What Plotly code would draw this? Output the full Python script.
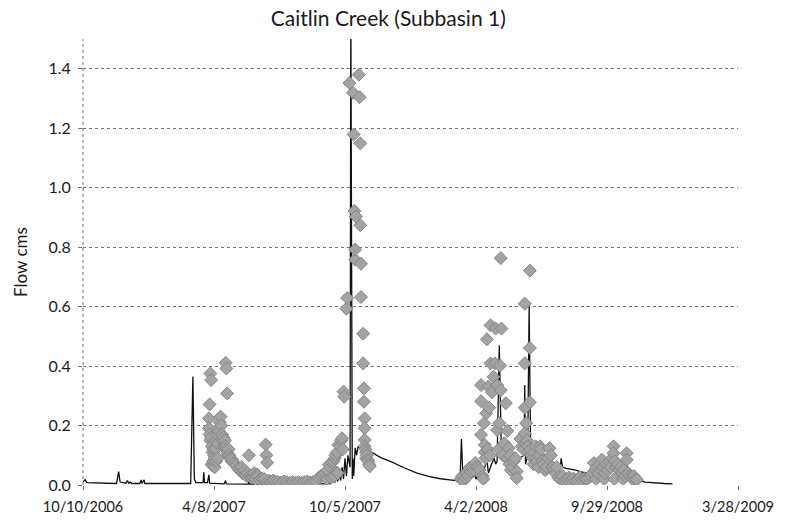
import plotly.graph_objects as go

# Simulated daily flow (cms), Caitlin Creek subbasin 1
sim_dates = [
    "2006-10-10", "2006-10-13", "2006-10-15", "2006-11-02", "2006-11-25", "2006-11-28",
    "2006-11-30", "2006-12-08", "2006-12-10", "2006-12-12", "2006-12-14", "2006-12-16",
    "2006-12-27", "2006-12-29", "2006-12-30", "2007-01-02", "2007-01-03", "2007-03-07",
    "2007-03-10", "2007-03-12", "2007-03-14", "2007-03-24", "2007-03-25", "2007-03-26",
    "2007-03-30", "2007-04-01", "2007-04-02", "2007-04-22", "2007-04-24", "2007-04-25",
    "2007-05-25", "2007-05-26", "2007-05-27", "2007-09-02", "2007-09-16", "2007-09-19",
    "2007-09-21", "2007-09-23", "2007-09-25", "2007-09-27", "2007-09-29", "2007-10-01",
    "2007-10-03", "2007-10-05", "2007-10-07", "2007-10-09", "2007-10-12", "2007-10-13",
    "2007-10-14", "2007-10-15", "2007-10-16", "2007-10-17", "2007-10-19", "2007-10-21",
    "2007-10-23", "2007-10-27", "2007-11-08", "2007-11-23", "2007-12-08", "2007-12-25",
    "2008-01-12", "2008-01-28", "2008-02-13", "2008-02-27", "2008-03-11", "2008-03-13",
    "2008-03-15", "2008-03-18", "2008-03-26", "2008-03-31", "2008-04-02", "2008-04-07",
    "2008-04-10", "2008-04-17", "2008-04-19", "2008-04-23", "2008-04-27", "2008-04-29",
    "2008-05-01", "2008-05-04", "2008-05-07", "2008-05-11", "2008-05-22", "2008-06-01",
    "2008-06-07", "2008-06-08", "2008-06-09", "2008-06-12", "2008-06-14", "2008-06-16",
    "2008-06-24", "2008-06-30", "2008-07-01", "2008-07-02", "2008-07-15", "2008-07-27",
    "2008-07-28", "2008-07-30", "2008-08-04", "2008-08-17", "2008-08-28", "2008-09-07",
    "2008-09-11", "2008-09-13", "2008-09-23", "2008-09-27", "2008-09-30", "2008-10-08",
    "2008-10-11", "2008-10-17", "2008-10-26", "2008-10-29", "2008-11-04", "2008-11-13",
    "2008-11-20", "2008-12-03", "2008-12-17", "2008-12-28",
]
sim_flow = [
    0.010, 0.018, 0.008, 0.006, 0.005, 0.045,
    0.010, 0.006, 0.015, 0.006, 0.010, 0.005,
    0.005, 0.017, 0.005, 0.017, 0.005, 0.005,
    0.365, 0.020, 0.008, 0.008, 0.043, 0.008,
    0.008, 0.034, 0.006, 0.004, 0.015, 0.004,
    0.003, 0.010, 0.003, 0.004, 0.005, 0.020,
    0.008, 0.030, 0.012, 0.040, 0.015, 0.060,
    0.020, 0.090, 0.030, 0.100, 0.060, 1.620,
    0.100, 0.020, 0.090, 0.030, 0.125, 0.100,
    0.130, 0.120, 0.114, 0.092, 0.078, 0.058,
    0.040, 0.029, 0.021, 0.016, 0.013, 0.155,
    0.030, 0.020, 0.025, 0.035, 0.020, 0.040,
    0.025, 0.085, 0.040, 0.068, 0.090, 0.070,
    0.080, 0.470, 0.090, 0.080, 0.080, 0.090,
    0.100, 0.336, 0.070, 0.100, 0.604, 0.130,
    0.115, 0.100, 0.125, 0.090, 0.075, 0.065,
    0.090, 0.060, 0.056, 0.050, 0.042, 0.040,
    0.085, 0.050, 0.060, 0.080, 0.060, 0.100,
    0.070, 0.070, 0.063, 0.055, 0.040, 0.018,
    0.010, 0.007, 0.005, 0.004,
]

# Observed flow (cms)
obs_dates = [
    # spring 2007
    "2007-04-01", "2007-04-01", "2007-04-02", "2007-04-02", "2007-04-03", "2007-04-03",
    "2007-04-04", "2007-04-04", "2007-04-05", "2007-04-05", "2007-04-06", "2007-04-06",
    "2007-04-07", "2007-04-07", "2007-04-08", "2007-04-09", "2007-04-09", "2007-04-10",
    "2007-04-11", "2007-04-11", "2007-04-12", "2007-04-13", "2007-04-13", "2007-04-14",
    "2007-04-15", "2007-04-16", "2007-04-17", "2007-04-18", "2007-04-19", "2007-04-20",
    "2007-04-21", "2007-04-22", "2007-04-23", "2007-04-24", "2007-04-24", "2007-04-25",
    "2007-04-25", "2007-04-26", "2007-04-26", "2007-04-27", "2007-04-28", "2007-04-29",
    "2007-04-30",
    # May - June 2007
    "2007-05-01", "2007-05-02", "2007-05-03", "2007-05-05", "2007-05-07", "2007-05-09",
    "2007-05-11", "2007-05-13", "2007-05-15", "2007-05-16", "2007-05-17", "2007-05-19",
    "2007-05-20", "2007-05-21", "2007-05-23", "2007-05-24", "2007-05-26", "2007-05-27",
    "2007-05-29", "2007-05-31", "2007-06-01", "2007-06-02", "2007-06-04", "2007-06-06",
    "2007-06-07", "2007-06-10", "2007-06-13", "2007-06-16", "2007-06-18", "2007-06-19",
    "2007-06-20", "2007-06-22", "2007-06-25", "2007-06-28",
    # summer low flow 2007
    "2007-07-01", "2007-07-05", "2007-07-09", "2007-07-13", "2007-07-17", "2007-07-21",
    "2007-07-25", "2007-07-29", "2007-08-02", "2007-08-06", "2007-08-10", "2007-08-14",
    "2007-08-18", "2007-08-22", "2007-08-26",
    # fall 2007 rise
    "2007-08-30", "2007-09-02", "2007-09-05", "2007-09-08", "2007-09-10", "2007-09-11",
    "2007-09-13", "2007-09-15", "2007-09-16", "2007-09-17", "2007-09-19", "2007-09-20",
    "2007-09-21", "2007-09-22", "2007-09-24", "2007-09-25", "2007-09-26", "2007-09-28",
    "2007-09-30", "2007-10-01", "2007-10-02", "2007-10-03", "2007-10-04",
    # October 2007 storm
    "2007-10-07", "2007-10-08", "2007-10-11", "2007-10-16", "2007-10-17", "2007-10-18",
    "2007-10-19", "2007-10-19", "2007-10-20", "2007-10-24", "2007-10-25", "2007-10-26",
    "2007-10-26", "2007-10-27", "2007-10-27", "2007-10-30", "2007-10-30", "2007-10-31",
    "2007-10-31", "2007-11-01", "2007-11-01", "2007-11-01", "2007-11-01", "2007-11-02",
    "2007-11-03", "2007-11-03", "2007-11-04", "2007-11-05", "2007-11-06", "2007-11-07",
    "2007-11-08",
    # March - April 2008
    "2008-03-12", "2008-03-14", "2008-03-16", "2008-03-18", "2008-03-20", "2008-03-22",
    "2008-03-24", "2008-03-26", "2008-03-28", "2008-03-30", "2008-04-01", "2008-04-03",
    "2008-04-05", "2008-04-07", "2008-04-09", "2008-04-09", "2008-04-09", "2008-04-11",
    "2008-04-12", "2008-04-13", "2008-04-14", "2008-04-14", "2008-04-15", "2008-04-16",
    "2008-04-17", "2008-04-18", "2008-04-19", "2008-04-20", "2008-04-21", "2008-04-22",
    "2008-04-22", "2008-04-24", "2008-04-26", "2008-04-28", "2008-04-29",
    # May - July 2008
    "2008-05-01", "2008-05-01", "2008-05-03", "2008-05-04", "2008-05-05", "2008-05-06",
    "2008-05-06", "2008-05-07", "2008-05-09", "2008-05-11", "2008-05-13", "2008-05-15",
    "2008-05-15", "2008-05-17", "2008-05-18", "2008-05-19", "2008-05-20", "2008-05-22",
    "2008-05-24", "2008-05-26", "2008-05-28", "2008-05-28", "2008-06-02", "2008-06-04",
    "2008-06-06", "2008-06-08", "2008-06-08", "2008-06-08", "2008-06-08", "2008-06-09",
    "2008-06-10", "2008-06-11", "2008-06-12", "2008-06-13", "2008-06-15", "2008-06-15",
    "2008-06-15", "2008-06-16", "2008-06-17", "2008-06-19", "2008-06-20", "2008-06-21",
    "2008-06-23", "2008-06-24", "2008-06-25", "2008-06-27", "2008-06-28", "2008-06-29",
    "2008-06-30", "2008-07-02", "2008-07-04", "2008-07-06", "2008-07-08", "2008-07-10",
    "2008-07-12", "2008-07-14", "2008-07-16", "2008-07-18", "2008-07-20", "2008-07-22",
    # late summer 2008
    "2008-07-24", "2008-07-27", "2008-07-30", "2008-08-02", "2008-08-05", "2008-08-08",
    "2008-08-11", "2008-08-14", "2008-08-17", "2008-08-20", "2008-08-23", "2008-08-26",
    "2008-08-29", "2008-09-01", "2008-09-04", "2008-09-07",
    # fall 2008
    "2008-09-09", "2008-09-11", "2008-09-13", "2008-09-14", "2008-09-15", "2008-09-17",
    "2008-09-19", "2008-09-21", "2008-09-22", "2008-09-24", "2008-09-25", "2008-09-26",
    "2008-09-28", "2008-09-30", "2008-10-02", "2008-10-04", "2008-10-06", "2008-10-08",
    "2008-10-08", "2008-10-09", "2008-10-10", "2008-10-12", "2008-10-14", "2008-10-16",
    "2008-10-18", "2008-10-20", "2008-10-21", "2008-10-22", "2008-10-24", "2008-10-26",
    "2008-10-26", "2008-10-28", "2008-10-30", "2008-11-01", "2008-11-03", "2008-11-05",
    "2008-11-07", "2008-11-09",
]
obs_flow = [
    # spring 2007
    0.224, 0.190, 0.271, 0.170, 0.375, 0.150,
    0.353, 0.160, 0.130, 0.070, 0.110, 0.065,
    0.120, 0.080, 0.100, 0.090, 0.060, 0.120,
    0.150, 0.080, 0.170, 0.140, 0.090, 0.190,
    0.180, 0.211, 0.230, 0.200, 0.170, 0.150,
    0.160, 0.130, 0.150, 0.411, 0.130, 0.392,
    0.120, 0.308, 0.110, 0.100, 0.120, 0.100,
    0.090,
    # May - June 2007
    0.090, 0.080, 0.085, 0.075, 0.070, 0.065,
    0.055, 0.050, 0.048, 0.060, 0.040, 0.045,
    0.050, 0.035, 0.030, 0.040, 0.100, 0.030,
    0.025, 0.030, 0.025, 0.040, 0.020, 0.035,
    0.030, 0.018, 0.022, 0.020, 0.136, 0.100,
    0.075, 0.015, 0.012, 0.015,
    # summer low flow 2007
    0.012, 0.010, 0.008, 0.012, 0.010, 0.007,
    0.010, 0.008, 0.010, 0.006, 0.010, 0.012,
    0.008, 0.010, 0.012,
    # fall 2007 rise
    0.025, 0.030, 0.035, 0.040, 0.020, 0.050,
    0.068, 0.060, 0.025, 0.075, 0.080, 0.030,
    0.090, 0.100, 0.110, 0.040, 0.135, 0.130,
    0.150, 0.157, 0.120, 0.314, 0.297,
    # October 2007 storm
    0.593, 0.629, 1.352, 1.319, 1.179, 0.922,
    0.758, 0.792, 0.903, 1.380, 1.304, 1.149,
    0.874, 0.744, 0.632, 0.509, 0.409, 0.325,
    0.280, 0.224, 0.191, 0.152, 0.130, 0.120,
    0.110, 0.090, 0.100, 0.085, 0.080, 0.070,
    0.063,
    # March - April 2008
    0.020, 0.030, 0.015, 0.025, 0.040, 0.030,
    0.057, 0.045, 0.060, 0.050, 0.074, 0.060,
    0.057, 0.050, 0.336, 0.282, 0.169, 0.030,
    0.020, 0.208, 0.135, 0.110, 0.090, 0.241,
    0.490, 0.120, 0.331, 0.260, 0.100, 0.537,
    0.409, 0.312, 0.364, 0.409, 0.526,
    # May - July 2008
    0.336, 0.185, 0.120, 0.208, 0.401, 0.763,
    0.319, 0.526, 0.100, 0.140, 0.275, 0.182,
    0.090, 0.124, 0.070, 0.100, 0.050, 0.060,
    0.080, 0.090, 0.046, 0.023, 0.155, 0.130,
    0.120, 0.610, 0.409, 0.260, 0.174, 0.140,
    0.208, 0.150, 0.130, 0.110, 0.461, 0.721,
    0.278, 0.120, 0.100, 0.090, 0.070, 0.110,
    0.130, 0.090, 0.080, 0.060, 0.100, 0.130,
    0.120, 0.080, 0.070, 0.050, 0.060, 0.090,
    0.124, 0.100, 0.060, 0.050, 0.040, 0.060,
    # late summer 2008
    0.025, 0.020, 0.030, 0.015, 0.020, 0.025,
    0.018, 0.022, 0.015, 0.020, 0.025, 0.018,
    0.022, 0.020, 0.025, 0.030,
    # fall 2008
    0.040, 0.074, 0.050, 0.020, 0.060, 0.040,
    0.070, 0.050, 0.085, 0.060, 0.020, 0.040,
    0.070, 0.050, 0.080, 0.060, 0.090, 0.130,
    0.107, 0.020, 0.080, 0.060, 0.070, 0.050,
    0.060, 0.040, 0.020, 0.050, 0.030, 0.107,
    0.085, 0.040, 0.030, 0.025, 0.020, 0.030,
    0.020, 0.018,
]

# Axis ticks (every 180 days)
tick_dates = ["2006-10-10", "2007-04-08", "2007-10-05", "2008-04-02", "2008-09-29", "2009-03-28"]
tick_labels = ["10/10/2006", "4/8/2007", "10/5/2007", "4/2/2008", "9/29/2008", "3/28/2009"]
y_ticks = [0.0, 0.2, 0.4, 0.6, 0.8, 1.0, 1.2, 1.4]

FONT = "Lato, Liberation Sans, sans-serif"
GRID = "#6e6e6e"

fig = go.Figure()

fig.add_trace(go.Scatter(
    x=sim_dates, y=sim_flow, mode="lines", name="Simulated",
    line=dict(color="#111111", width=1.3),
))
fig.add_trace(go.Scatter(
    x=obs_dates, y=obs_flow, mode="markers", name="Observed",
    marker=dict(symbol="diamond", size=10, color="#a3a3a3",
                line=dict(color="#858585", width=1)),
))

# dotted left axis line
fig.add_shape(type="line", xref="paper", yref="paper", x0=0, x1=0, y0=0, y1=1,
              line=dict(color=GRID, width=1, dash="dot"))

fig.update_layout(
    width=786, height=527,
    margin=dict(l=83, r=36, t=39, b=40),
    paper_bgcolor="white", plot_bgcolor="white",
    showlegend=False,
    font=dict(family=FONT, size=14, color="#1a1a1a"),
    title=dict(text="Caitlin Creek (Subbasin 1)", font=dict(family=FONT, size=21, color="#1a1a1a"),
               x=0.494, xref="container", xanchor="center",
               y=0.964, yref="container", yanchor="middle"),
    xaxis=dict(
        range=["2006-10-10", "2009-03-28"],
        tickmode="array", tickvals=tick_dates, ticktext=tick_labels,
        showgrid=False, zeroline=False, showline=False,
        ticks="outside", ticklen=4, tickcolor=GRID, tickwidth=1,
        ticklabelstandoff=5,
        tickfont=dict(size=14.5),
    ),
    yaxis=dict(
        range=[0, 1.5],
        tickmode="array", tickvals=y_ticks, tickformat=".1f",
        showgrid=True, gridcolor=GRID, griddash="dot", gridwidth=1,
        zeroline=False, showline=False,
        ticks="outside", ticklen=4, tickcolor=GRID, tickwidth=1,
        ticklabelstandoff=4,
        tickfont=dict(size=16),
        title=dict(text="Flow cms", font=dict(size=17), standoff=16),
    ),
)

fig.write_html("out.html")
